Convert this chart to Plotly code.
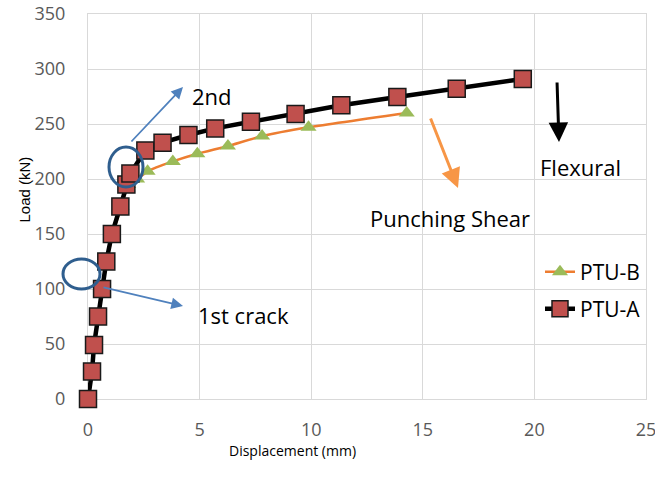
import plotly.graph_objects as go

# PTU-A (flexural)
a_disp = [0.0, 0.18, 0.27, 0.45, 0.63, 0.82, 1.07, 1.45, 1.72, 1.9, 2.57, 3.34, 4.5, 5.7, 7.3, 9.3, 11.35, 13.86, 16.52, 19.48]
a_load = [0, 25, 49, 75, 100, 125, 150, 175, 195, 205, 226, 233, 240, 246, 252, 259, 267, 274.5, 282, 291]
# PTU-B (punching shear)
b_disp = [0.0, 0.18, 0.27, 0.45, 0.63, 0.85, 1.1, 1.5, 1.8, 2.2, 2.67, 3.8, 4.9, 6.27, 7.8, 9.88, 14.28]
b_load = [0, 25, 49, 75, 100, 125, 150, 175, 195, 200, 207, 216, 223, 230, 239, 247, 260]

x_ticks = [0, 5, 10, 15, 20, 25]
y_ticks = [0, 50, 100, 150, 200, 250, 300, 350]

W, H = 655, 477
ML, MR, MT, MB = 88, 9, 14, 78
PW, PH = W - ML - MR, H - MT - MB
XMAX, YMAX = 25, 350

def dx(px):
    return (px - ML) / PW * XMAX

def dy(py):
    return (H - MB - py) / PH * YMAX

def paper_x(px):
    return (px - ML) / PW

def paper_y(py):
    return (H - MB - py) / PH

fig = go.Figure()
fig.add_trace(go.Scatter(
    x=b_disp, y=b_load, name="PTU-B", mode="lines+markers", legend="legend",
    line=dict(color="#ED7D31", width=2.5, shape="spline", smoothing=0.4),
    marker=dict(symbol="triangle-up", size=14, color="#9BBB59", line=dict(width=0)),
    cliponaxis=False,
))
fig.add_trace(go.Scatter(
    x=a_disp, y=a_load, name="PTU-A", mode="lines+markers", legend="legend2",
    line=dict(color="#000000", width=4.5),
    marker=dict(symbol="square", size=17, color="#C0504D", line=dict(color="#1a1a1a", width=1.5)),
    cliponaxis=False,
))

font_main = "Open Sans, Liberation Sans, sans-serif"
tick_font = dict(family=font_main, size=18, color="#595959")
leg_font = dict(family=font_main, size=21, color="#000")
grid_col = "#D9D9D9"

fig.update_layout(
    width=W, height=H,
    margin=dict(l=ML, r=MR, t=MT, b=MB, pad=0, autoexpand=False),
    paper_bgcolor="white", plot_bgcolor="white",
    showlegend=True,
    legend=dict(x=paper_x(540), y=paper_y(272), xanchor="left", yanchor="middle",
                bgcolor="rgba(0,0,0,0)", font=leg_font, itemwidth=30),
    legend2=dict(x=paper_x(540), y=paper_y(309), xanchor="left", yanchor="middle",
                 bgcolor="rgba(0,0,0,0)", font=leg_font, itemwidth=30),
    xaxis=dict(range=[0, XMAX], tickvals=x_ticks, showgrid=True, gridcolor=grid_col, gridwidth=1,
               zeroline=False, showline=True, linecolor=grid_col, linewidth=1, mirror=True,
               ticks="", tickfont=tick_font, ticklabelstandoff=14, layer="below traces",
               ticklabeloverflow="allow", automargin=False),
    yaxis=dict(range=[0, YMAX], tickvals=y_ticks, showgrid=True, gridcolor=grid_col, gridwidth=1,
               zeroline=False, showline=True, linecolor=grid_col, linewidth=1, mirror=True,
               ticks="", tickfont=tick_font, ticklabelstandoff=18, layer="below traces",
               ticklabeloverflow="allow", automargin=False),
)

# axis titles
fig.add_annotation(text="Displacement (mm)", xref="paper", yref="paper",
                   x=paper_x(292), y=paper_y(462), showarrow=False,
                   font=dict(family=font_main, size=14, color="#000"))
fig.add_annotation(text="Load (kN)", xref="paper", yref="paper",
                   x=paper_x(13), y=paper_y(190), showarrow=False, textangle=-90,
                   font=dict(family="Liberation Sans, Arial, sans-serif", size=15, color="#000"))

# text labels
labels = [("2nd", 190, 96), ("1st crack", 196, 315), ("Punching Shear", 368, 218), ("Flexural", 538, 167)]
for txt, px, py in labels:
    fig.add_annotation(text=txt, x=dx(px), y=dy(py), xref="x", yref="y", xanchor="left",
                       yanchor="middle", showarrow=False,
                       font=dict(family=font_main, size=22, color="#000"))

# arrows (tail -> head)
arrows = [((130, 143), (183, 87), "#4F81BD", 1.8),
          ((102, 287), (183, 306), "#4F81BD", 1.8),
          ((430, 117), (458, 188), "#F79646", 3),
          ((557, 81), (559, 142), "#000000", 3)]
for (tx, ty), (hx, hy), col, w in arrows:
    fig.add_annotation(x=dx(hx), y=dy(hy), ax=dx(tx), ay=dy(ty), xref="x", yref="y",
                       axref="x", ayref="y", showarrow=True, arrowhead=2, arrowsize=1.3,
                       arrowwidth=w, arrowcolor=col, text="")

# ellipses
ellipses = [(109, 147, 143, 187), (63, 259, 100, 289)]
for x0, y0, x1, y1 in ellipses:
    fig.add_shape(type="circle", xref="paper", yref="paper",
                  x0=paper_x(x0), x1=paper_x(x1), y0=paper_y(y1), y1=paper_y(y0),
                  line=dict(color="#2F5E8E", width=3), fillcolor="rgba(0,0,0,0)")

fig.write_html("out.html")
